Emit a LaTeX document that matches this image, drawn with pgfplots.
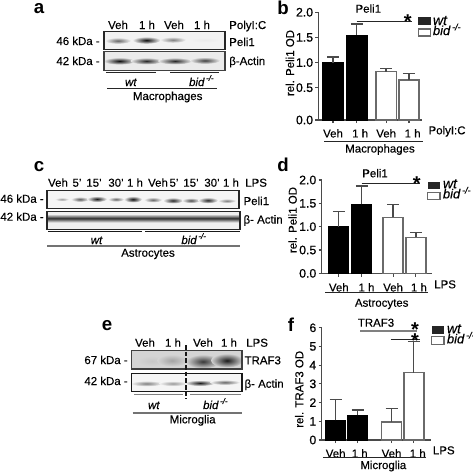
\documentclass[border=0pt]{standalone}
\usepackage{fontspec}
\setmainfont{Liberation Sans}[FakeBold=0.3,BoldFeatures={FakeBold=0}]
\newfontfamily\fbf[FakeBold=0.7]{Liberation Sans}
\usepackage{pgfplots}
\pgfplotsset{compat=1.18}
\definecolor{ax}{HTML}{4A4A4A}
\definecolor{wbar}{HTML}{6A6A6A}
\newcommand\fs{\fontsize{8.6}{10}\selectfont}
\newcommand\TL[3]{\node[anchor=base west,inner sep=0pt,font=\fs] at (#1,#2) {#3};}
\newcommand\TC[3]{\node[anchor=base,inner sep=0pt,font=\fs] at (#1,#2) {#3};}
\newcommand\TR[3]{\node[anchor=base east,inner sep=0pt,font=\fs] at (#1,#2) {#3};}
\newcommand\Let[3]{\node[anchor=center,inner sep=0pt,font=\fontsize{14}{14}\selectfont\bfseries] at (#1,#2) {#3};}
\newcommand\Star[2]{\node[anchor=base,inner sep=0pt,font=\fontsize{15}{15}\selectfont\bfseries] at (#1,#2+11.5) {*};}
\newcommand\bid{\textit{bid}\textsuperscript{\,\textit{-/-}}}
\newcommand\LW[3]{\node[anchor=base west,inner sep=0pt,font=\fontsize{10.5}{10}\selectfont] at (#1,#2) {\textit{wt}};
  \node[anchor=base west,inner sep=0pt,font=\fontsize{9.7}{10}\selectfont] at (#1,#3) {\bid};}
\newcommand\Band[6]{\shade[inner color=black!#5,outer color=#6] (#1,#2) ellipse ({#3} and {#4});}
\pgfplotsset{
  panel/.style={
    scale only axis, axis lines=left, axis line style={-,ax,line width=1pt},
    tick style={ax,line width=0.9pt}, tick align=outside, major tick length=2.4pt,
    clip=false, ytick pos=left, xtick pos=bottom,
    /pgf/number format/assume math mode=true,
    /pgf/number format/fixed, /pgf/number format/precision=1,
    yticklabel style={font=\fbf\fontsize{9.2}{10}\selectfont,inner sep=0pt,xshift=-1.5pt},
    xticklabel style={font=\fs,anchor=base,inner sep=0pt},
    ybar, bar width=15pt, bar shift=0pt,
  },
  errs/.style={
    error bars/y dir=plus, error bars/y explicit,
    error bars/error bar style={ax,line width=1pt},
    error bars/error mark options={rotate=90,mark size=4.5pt,ax,line width=1pt}},
  wtbar/.style={fill=black,draw=black,line width=0.6pt,errs},
  bidbar/.style={fill=white,draw=wbar,line width=1.1pt,errs},
}
\begin{document}
\begin{tikzpicture}
\useasboundingbox (0,0) rectangle (354.75pt,-354pt);

%% ---------- panel b
\begin{axis}[panel, at={(238.9pt,-90pt)}, anchor=south west, width=77.4pt, height=80.8pt,
  xmin=-0.617, xmax=3.774, ymin=-0.143, ymax=2,
  ytick={-0.143,0.5,1,1.5,2}, yticklabels={0.0,0.5,1.0,1.5,2.0},
  xtick={0,1.01,2.26,3.23},
  xticklabels={Veh,{\hspace*{5pt}1 h},Veh,{\hspace*{5.5pt}1 h}},
  xticklabel style={yshift=-10.7pt}]
\addplot[fill=black,draw=black,line width=0.4pt,sharp plot] coordinates {(-0.451,-0.143)(-0.451,1)(0.451,1)(0.451,-0.143)} -- cycle;
\addplot[fill=black,draw=black,line width=0.4pt,sharp plot] coordinates {(0.559,-0.143)(0.559,1.55)(1.461,1.55)(1.461,-0.143)} -- cycle;
\addplot[fill=white,draw=wbar,line width=1.1pt,sharp plot] coordinates {(1.83,-0.143)(1.83,0.82)(2.69,0.82)(2.69,-0.143)} -- cycle;
\addplot[fill=white,draw=wbar,line width=1.1pt,sharp plot] coordinates {(2.80,-0.143)(2.80,0.65)(3.66,0.65)(3.66,-0.143)} -- cycle;
\addplot[draw=none,fill=none,mark=none,errs,sharp plot] coordinates {(0,1) +- (0,0.11) (1.01,1.55) +- (0,0.22)};
\addplot[draw=none,fill=none,mark=none,errs,sharp plot] coordinates {(2.26,0.82) +- (0,0.06) (3.23,0.65) +- (0,0.13)};
\end{axis}

%% ---------- panel d
\begin{axis}[panel, at={(241.3pt,-205pt)}, anchor=south west, width=82.5pt, height=70pt,
  xmin=-0.743, xmax=4.04, ymin=0, ymax=2,
  ytick={0,0.5,1,1.5,2}, yticklabels={0.0,0.5,1.0,1.5,2.0},
  xtick={0,1,2.36,3.35},
  xticklabels={Veh,{\hspace*{7pt}1 h},Veh,{\hspace*{4.5pt}1 h}},
  xticklabel style={yshift=-11.2pt}]
\addplot[wtbar] coordinates {(0,1.0) +- (0,0.32) (1,1.48) +- (0,0.39)};
\addplot[bidbar] coordinates {(2.36,1.2) +- (0,0.28) (3.35,0.77) +- (0,0.10)};
\end{axis}

%% ---------- panel f
\begin{axis}[panel, at={(241.3pt,-330pt)}, anchor=south west, width=82pt, height=84.2pt,
  xmin=-0.632, xmax=4.336, ymin=0, ymax=6,
  ytick={0,1,2,3,4,5,6}, yticklabels={0,1,2,3,4,5,6},
  xtick={0,1,2.54,3.55},
  xticklabels={Veh,{\hspace*{3pt}1 h},Veh,{\hspace*{6pt}1 h}},
  xticklabel style={yshift=-10.7pt}]
\addplot[wtbar] coordinates {(0,1.05) +- (0,1.10) (1,1.32) +- (0,0.28)};
\addplot[bidbar] coordinates {(2.54,0.97) +- (0,0.70) (3.55,3.6) +- (0,1.67)};
\end{axis}

\begin{scope}[x=0.75pt,y=-0.75pt]
%% panel letters
\Let{39}{9}{a} \Let{283}{8}{b} \Let{39}{167}{c} \Let{283}{165}{d} \Let{107}{326}{e} \Let{291}{325}{f}

%% ---------- panel a blot
\colorlet{bgA}{black!5}\colorlet{bgB}{black!8}\colorlet{bgC}{black!4}\colorlet{bgD}{black!6}\colorlet{bgE}{black!17}
\fill[bgA] (104,31.3) rectangle (225,49.7);
\fill[bgB] (104,51.7) rectangle (225,70.3);
\Band{118}{40.7}{13}{3.2}{60}{bgA}
\Band{146.5}{40.2}{14}{3.6}{95}{bgA}
\Band{173}{39.8}{13}{3}{50}{bgA}
\Band{205}{40}{16}{2.5}{8}{bgA}
\Band{119.5}{61}{16}{3.6}{95}{bgB}
\Band{146.5}{61}{16}{3.4}{85}{bgB}
\Band{175}{61}{17}{3.4}{85}{bgB}
\Band{205}{60.5}{15}{3.4}{75}{bgB}
\draw[black!85,line width=0.9pt] (104,31.3) rectangle (225,49.7);
\draw[black!75,line width=1pt] (104,51.7) rectangle (225,70.3);
\TC{118}{29}{Veh} \TC{147}{29}{1 h} \TC{174}{29}{Veh} \TC{202}{29}{1 h}
\TL{229}{29}{PolyI:C} \TL{229}{46}{Peli1} \TL{229}{65}{β-Actin}
\TR{100}{45}{46 kDa -} \TR{100}{65}{42 kDa -}
\draw[black!85,line width=0.7pt] (106,72.3)--(155.7,72.3) (170,72.3)--(219,72.3);
\draw[black!85,line width=0.7pt] (107,88)--(217,88);
\TC{131}{86}{\textit{wt}} \TC{201.7}{86}{\bid}
\TC{167.7}{100}{Macrophages}

%% panel b text
\TC{380}{152.5}{Macrophages} \TL{428.3}{134.3}{PolyI:C}
\draw[black!85,line width=0.7pt] (324,141)--(422.7,141);
\node[rotate=90,anchor=base,inner sep=0pt,font=\fs] at (294,63) {rel. Peli1 OD};
\TC{368.3}{12.7}{Peli1}
\draw[black!85,line width=0.7pt] (356.7,21)--(411.7,21);
\Star{407.7}{16.7}
\fill[black!85] (418.3,17.3) rectangle (430.7,25.3);
\draw[wbar,line width=0.8pt] (418.3,29) rectangle (430.7,36);
\LW{432.7}{25}{35}

%% ---------- panel c blot
\fill[bgC] (47,190.7) rectangle (239,208.7);
\fill[bgD] (47,211.3) rectangle (240,229.3);
\Band{62}{199.3}{7}{1.8}{40}{bgC}
\Band{80}{199.3}{9}{2.6}{65}{bgC}
\Band{97}{199}{10}{3}{90}{bgC}
\Band{116}{199.3}{8}{2.4}{60}{bgC}
\Band{133}{199.3}{9}{3.2}{95}{bgC}
\Band{153}{199.8}{9}{2.6}{60}{bgC}
\Band{173}{200.5}{10}{3}{85}{bgC}
\Band{191}{200.5}{9}{2.6}{70}{bgC}
\Band{208}{200.3}{10}{3}{85}{bgC}
\Band{227}{200.8}{9}{2.2}{50}{bgC}
\shade[top color=bgD,bottom color=bgD,middle color=black!82] (47.5,214) rectangle (239.5,222.5);
\draw[black!85,line width=0.9pt] (47,190.7) rectangle (239,208.7);
\draw[black!85,line width=0.9pt] (47,211.3) rectangle (240,229.3);
\TC{58}{186.7}{Veh} \TC{77}{186.7}{5'} \TC{94}{186.7}{15'} \TC{116}{186.7}{30'} \TC{135}{186.7}{1 h}
\TC{158}{186.7}{Veh} \TC{174}{186.7}{5'} \TC{191}{186.7}{15'} \TC{212}{186.7}{30'} \TC{231}{186.7}{1 h}
\TL{245}{186.7}{LPS} \TL{243.3}{205}{Peli1} \TL{243.3}{223.5}{β- Actin}
\TR{44}{202.7}{46 kDa -} \TR{44}{220.7}{42 kDa -}
\draw[black!90,line width=0.7pt] (48,231.7)--(142,231.7) (145,231.7)--(240,231.7);
\draw[black!55,line width=1.3pt] (47,246)--(240,246);
\TC{96.7}{244}{\textit{wt}} \TC{194}{244}{\bid}
\TC{148}{256.7}{Astrocytes}

%% panel d text
\TL{434}{288.3}{LPS}
\draw[black!85,line width=0.7pt] (325,292.3)--(428.3,292.3);
\TC{381.7}{306.7}{Astrocytes}
\node[rotate=90,anchor=base,inner sep=0pt,font=\fs] at (296.7,220) {rel. Peli1 OD};
\TC{375}{177.3}{Peli1}
\draw[black!85,line width=0.7pt] (361.7,183.3)--(420,183.3);
\Star{416.7}{179.3}
\fill[black!85] (427.7,181.7) rectangle (440,189.3);
\draw[wbar,line width=0.8pt] (427.7,192.3) rectangle (440,199.3);
\LW{442.7}{188.3}{198.3}

%% ---------- panel e blot
\fill[bgE] (131.7,350.7) rectangle (242,369);
\fill[bgC] (131.7,373.3) rectangle (242,391.3);
\Band{152}{361}{14}{5}{22}{bgE}
\Band{172}{360.5}{15}{6}{36}{bgE}
\Band{203}{361.5}{17}{7}{78}{bgE}
\Band{227}{360.5}{16}{7}{90}{bgE}
\Band{146.7}{383.5}{16}{2.8}{50}{bgC}
\Band{173}{383.5}{14}{2.6}{40}{bgC}
\Band{200}{383}{15}{3}{90}{bgC}
\Band{225}{382.3}{15}{2.6}{60}{bgC}
\draw[black!75,line width=1pt] (131.7,350.7) rectangle (242,369);
\draw[black!90,line width=0.8pt] (131.7,373.3) rectangle (242,391.3);
\draw[black!90,line width=0.8pt,dash pattern=on 3.5pt off 1.5pt] (186,345)--(186,399);
\TC{145}{346.7}{Veh} \TC{173}{346.7}{1 h} \TC{203}{346.7}{Veh} \TC{229}{346.7}{1 h}
\TL{246}{346.7}{LPS} \TL{244.3}{364.3}{TRAF3} \TL{244.3}{387.7}{β- Actin}
\TR{128}{364}{67 kDa -} \TR{128}{385}{42 kDa -}
\draw[black!50,line width=1pt] (134,394.7)--(183.3,394.7) (190,394.7)--(240.7,394.7);
\draw[black!55,line width=1.3pt] (132.7,412.7)--(241.7,412.7);
\TC{154}{409}{\textit{wt}} \TC{215.7}{409}{\bid}
\TC{192.7}{423.3}{Microglia}

%% panel f text
\TL{432.7}{454.3}{LPS}
\draw[black!85,line width=0.7pt] (323.3,457.7)--(426,457.7);
\TC{383.3}{469}{Microglia}
\node[rotate=90,anchor=base,inner sep=0pt,font=\fs] at (303.3,389.3) {rel. TRAF3 OD};
\TC{376}{326.7}{TRAF3}
\draw[black!50,line width=1.2pt] (360,330.7)--(416.7,330.7);
\draw[black!85,line width=0.7pt] (390.7,339.3)--(420,339.3);
\Star{415}{325} \Star{415}{335.7}
\fill[black!85] (431.7,325.7) rectangle (444,334);
\draw[wbar,line width=0.8pt] (431.7,336.7) rectangle (444,344.3);
\LW{446.7}{333.3}{343.3}
\end{scope}
\end{tikzpicture}
\end{document}
